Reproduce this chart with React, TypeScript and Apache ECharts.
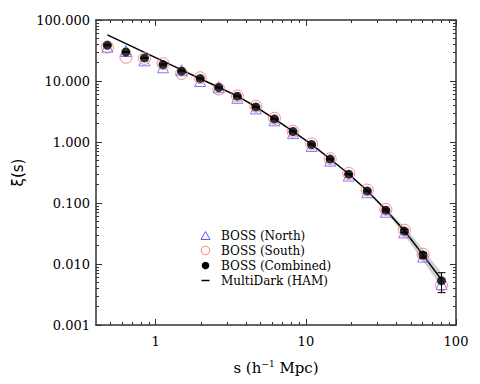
import React, { useEffect, useRef } from 'react';
import * as echarts from 'echarts';

// separation bins (h^-1 Mpc)
const sValues = [0.476, 0.633, 0.841, 1.118, 1.487, 1.977, 2.628, 3.494, 4.645, 6.176, 8.21, 10.92, 14.51, 19.3, 25.65, 34.1, 45.3, 60.3, 80.1];
const northXi = [36.5, 31.0, 21.8, 16.8, 15.0, 10.0, 7.9, 5.3, 3.55, 2.27, 1.40, 0.86, 0.495, 0.282, 0.150, 0.0720, 0.0330, 0.0132, 0.0047];
const southXi = [36.0, 24.5, 23.5, 19.2, 13.3, 11.3, 7.4, 5.7, 3.85, 2.45, 1.50, 0.93, 0.53, 0.305, 0.163, 0.0785, 0.0358, 0.0145, 0.0045];
const combinedXi = [38.5, 29.9, 23.9, 18.6, 14.5, 11.0, 7.8, 5.63, 3.76, 2.39, 1.486, 0.91, 0.524, 0.297, 0.158, 0.0764, 0.0347, 0.0140, 0.00532];
const combinedLo = [37.5, 29.2, 23.4, 18.2, 14.2, 10.8, 7.65, 5.52, 3.69, 2.34, 1.455, 0.89, 0.512, 0.290, 0.153, 0.0735, 0.0325, 0.0126, 0.00339];
const combinedHi = [39.5, 30.6, 24.4, 19.0, 14.8, 11.2, 7.95, 5.74, 3.83, 2.44, 1.517, 0.93, 0.536, 0.304, 0.163, 0.0795, 0.0370, 0.0155, 0.0072];

const modelS = [0.476, 0.633, 0.841, 1.118, 1.487, 1.977, 2.628, 3.494, 4.645, 6.176, 8.21, 10.92, 14.51, 19.3, 25.65, 34.1, 45.3, 60.3, 80.1];
const modelXi = [56.9, 40.9, 29.5, 21.2, 15.2, 10.9, 7.9, 5.65, 3.78, 2.40, 1.49, 0.915, 0.527, 0.299, 0.159, 0.0768, 0.0350, 0.0141, 0.0055];
const bandS = [25.65, 34.1, 45.3, 60.3, 80.1];
const bandLo = [0.155, 0.0715, 0.0300, 0.0112, 0.0041];
const bandHi = [0.163, 0.0825, 0.0405, 0.0175, 0.0072];

const legendLabels = ['BOSS (North)', 'BOSS (South)', 'BOSS (Combined)', 'MultiDark (HAM)'];

const xMajorTicks = [1, 10, 100];
const xMinorTicks = [0.5, 0.6, 0.7, 0.8, 0.9, 2, 3, 4, 5, 6, 7, 8, 9, 20, 30, 40, 50, 60, 70, 80, 90];
const yMajorTicks = [0.001, 0.01, 0.1, 1, 10, 100];
const yMinorTicks: number[] = [];
[0.001, 0.01, 0.1, 1, 10].forEach((d) => {
  [2, 3, 4, 5, 6, 7, 8, 9].forEach((m) => yMinorTicks.push(+(d * m).toPrecision(3)));
});

const FONT = 'DejaVu Serif';
const AXIS_COLOR = '#333';
const NORTH_COLOR = '#5a5aff';
const SOUTH_COLOR = '#ff6a6a';

export default function App() {
  const ref = useRef<HTMLDivElement>(null);
  useEffect(() => {
    if (!ref.current) return;
    const chart = echarts.init(ref.current, undefined, { renderer: 'svg' });

    const baseX = { type: 'log' as const, min: 0.4, max: 100, gridIndex: 0, splitLine: { show: false } };
    const baseY = { type: 'log' as const, min: 0.001, max: 100, gridIndex: 0, splitLine: { show: false } };
    const lineStyle = { color: AXIS_COLOR, width: 1.5 };
    const tickStyle = { color: AXIS_COLOR, width: 1 };

    const xAxes = [
      {
        ...baseX,
        position: 'bottom',
        axisLine: { show: true, lineStyle },
        axisTick: { show: true, inside: true, length: 6, customValues: xMajorTicks, lineStyle: tickStyle },
        axisLabel: {
          show: true,
          customValues: xMajorTicks,
          formatter: (v: number) => String(Math.round(v)),
          margin: 10,
          fontFamily: FONT,
          fontSize: 13,
          color: '#000',
        },
        name: 's (h{sup|−1} Mpc)',
        nameLocation: 'middle',
        nameGap: 34,
        nameTextStyle: {
          fontFamily: FONT,
          fontSize: 15,
          color: '#000',
          rich: { sup: { fontFamily: FONT, fontSize: 9, verticalAlign: 'top', padding: [0, 0, 8, 0], color: '#000' } },
        },
      },
      {
        ...baseX,
        position: 'bottom',
        axisLine: { show: false },
        axisTick: { show: true, inside: true, length: 3, customValues: xMinorTicks, lineStyle: tickStyle },
        axisLabel: { show: false },
      },
      {
        ...baseX,
        position: 'top',
        axisLine: { show: true, lineStyle },
        axisTick: { show: true, inside: true, length: 6, customValues: xMajorTicks, lineStyle: tickStyle },
        axisLabel: { show: false },
      },
      {
        ...baseX,
        position: 'top',
        axisLine: { show: false },
        axisTick: { show: true, inside: true, length: 3, customValues: xMinorTicks, lineStyle: tickStyle },
        axisLabel: { show: false },
      },
    ];

    const yAxes = [
      {
        ...baseY,
        position: 'left',
        axisLine: { show: true, lineStyle },
        axisTick: { show: true, inside: true, length: 6, customValues: yMajorTicks, lineStyle: tickStyle },
        axisLabel: {
          show: true,
          customValues: yMajorTicks,
          formatter: (v: number) => v.toFixed(3),
          margin: 6,
          fontFamily: FONT,
          fontSize: 13,
          color: '#000',
        },
        name: 'ξ(s)',
        nameLocation: 'middle',
        nameGap: 71,
        nameRotate: 90,
        nameTextStyle: { fontFamily: 'DejaVu Sans', fontSize: 15, color: '#000' },
      },
      {
        ...baseY,
        position: 'left',
        axisLine: { show: false },
        axisTick: { show: true, inside: true, length: 3, customValues: yMinorTicks, lineStyle: tickStyle },
        axisLabel: { show: false },
      },
      {
        ...baseY,
        position: 'right',
        axisLine: { show: true, lineStyle },
        axisTick: { show: true, inside: true, length: 6, customValues: yMajorTicks, lineStyle: tickStyle },
        axisLabel: { show: false },
      },
      {
        ...baseY,
        position: 'right',
        axisLine: { show: false },
        axisTick: { show: true, inside: true, length: 3, customValues: yMinorTicks, lineStyle: tickStyle },
        axisLabel: { show: false },
      },
    ];

    const northData = sValues.map((s, i) => [s, northXi[i]]);
    const southData = sValues.map((s, i) => [s, southXi[i]]);
    const combinedData = sValues.map((s, i) => [s, combinedXi[i]]);
    const errData = sValues.map((s, i) => [s, combinedLo[i], combinedHi[i]]);
    const modelData = modelS.map((s, i) => [s, modelXi[i]]);

    // hand-built legend (symbol column + text column)
    const legX = 205.5;
    const legTextX = 221;
    const legRows = [236, 250.5, 265.5, 280.5];
    const legendGraphic: any[] = [
      {
        type: 'polygon',
        shape: { points: [[legX - 4.5, legRows[0] + 3.5], [legX + 4.5, legRows[0] + 3.5], [legX, legRows[0] - 4.5]] },
        style: { fill: 'none', stroke: NORTH_COLOR, lineWidth: 1 },
      },
      { type: 'circle', shape: { cx: legX, cy: legRows[1], r: 4.2 }, style: { fill: 'none', stroke: SOUTH_COLOR, lineWidth: 1 } },
      { type: 'circle', shape: { cx: legX, cy: legRows[2], r: 3.8 }, style: { fill: '#000' } },
      { type: 'line', shape: { x1: legX - 4, y1: legRows[3], x2: legX + 4, y2: legRows[3] }, style: { stroke: '#000', lineWidth: 1.5 } },
      ...legendLabels.map((t, i) => ({
        type: 'text',
        x: legTextX,
        y: legRows[i],
        style: { text: t, fill: '#000', font: `12px "${FONT}"`, verticalAlign: 'middle', align: 'left' },
      })),
    ];

    const option: any = {
      animation: false,
      backgroundColor: '#fff',
      grid: { left: 96, right: 24, top: 20, bottom: 59, containLabel: false },
      xAxis: xAxes,
      yAxis: yAxes,
      graphic: legendGraphic,
      series: [
        {
          type: 'custom',
          name: 'band',
          xAxisIndex: 0,
          yAxisIndex: 0,
          silent: true,
          data: [0],
          z: 1,
          renderItem: (_params: any, api: any) => {
            const upper = bandS.map((s, i) => api.coord([s, bandHi[i]]));
            const lower = bandS.map((s, i) => api.coord([s, bandLo[i]])).reverse();
            return {
              type: 'polygon',
              shape: { points: upper.concat(lower) },
              style: { fill: 'rgba(175,175,175,0.6)', stroke: 'none' },
            };
          },
        },
        {
          type: 'line',
          name: 'MultiDark (HAM)',
          xAxisIndex: 0,
          yAxisIndex: 0,
          data: modelData,
          symbol: 'none',
          lineStyle: { color: '#000', width: 1.5 },
          itemStyle: { color: '#000' },
          z: 2,
        },
        {
          type: 'scatter',
          name: 'BOSS (North)',
          xAxisIndex: 0,
          yAxisIndex: 0,
          data: northData,
          symbol: 'triangle',
          symbolSize: 11,
          itemStyle: { color: 'rgba(0,0,0,0)', borderColor: NORTH_COLOR, borderWidth: 1 },
          z: 3,
        },
        {
          type: 'scatter',
          name: 'BOSS (South)',
          xAxisIndex: 0,
          yAxisIndex: 0,
          data: southData,
          symbol: 'circle',
          symbolSize: 12,
          itemStyle: { color: 'rgba(0,0,0,0)', borderColor: SOUTH_COLOR, borderWidth: 1 },
          z: 3,
        },
        {
          type: 'custom',
          name: 'errors',
          xAxisIndex: 0,
          yAxisIndex: 0,
          silent: true,
          data: errData,
          z: 4,
          renderItem: (_params: any, api: any) => {
            const s = api.value(0);
            const lo = api.coord([s, api.value(1)]);
            const hi = api.coord([s, api.value(2)]);
            const w = 4;
            const st = { stroke: '#000', lineWidth: 1 };
            return {
              type: 'group',
              children: [
                { type: 'line', shape: { x1: lo[0], y1: lo[1], x2: hi[0], y2: hi[1] }, style: st },
                { type: 'line', shape: { x1: lo[0] - w, y1: lo[1], x2: lo[0] + w, y2: lo[1] }, style: st },
                { type: 'line', shape: { x1: hi[0] - w, y1: hi[1], x2: hi[0] + w, y2: hi[1] }, style: st },
              ],
            };
          },
        },
        {
          type: 'scatter',
          name: 'BOSS (Combined)',
          xAxisIndex: 0,
          yAxisIndex: 0,
          data: combinedData,
          symbol: 'circle',
          symbolSize: 9,
          itemStyle: { color: '#000' },
          z: 5,
        },
      ],
    };
    chart.setOption(option);
    return () => chart.dispose();
  }, []);

  return (
    <div
      ref={ref}
      style={{ position: 'fixed', left: 0, top: 0, width: 480, height: 384, background: '#fff' }}
    />
  );
}
